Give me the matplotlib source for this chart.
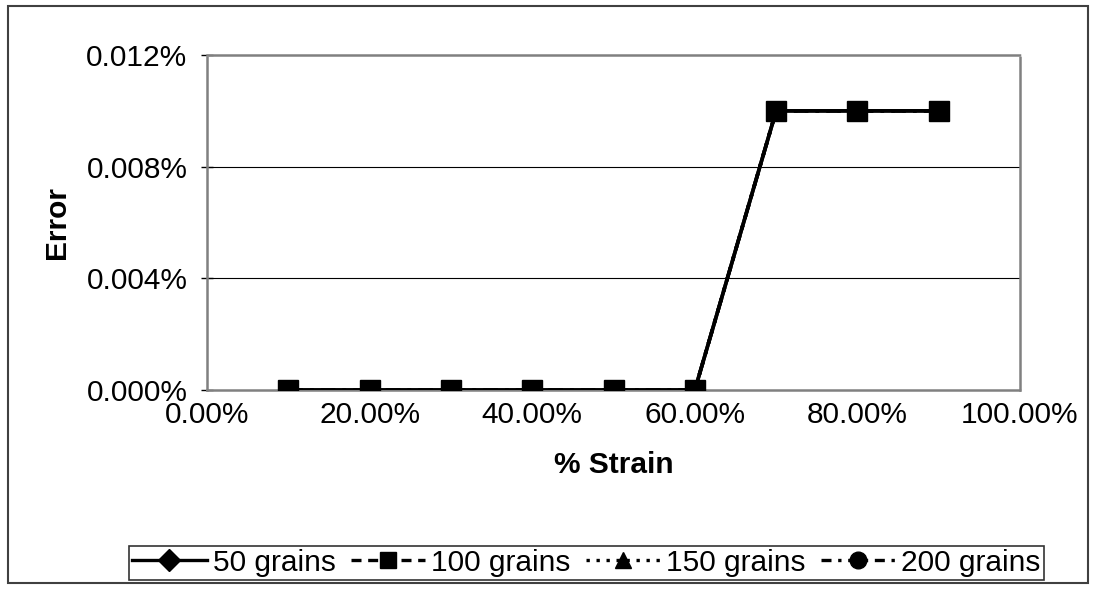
import matplotlib
matplotlib.use("Agg")
from matplotlib import pyplot as plt
from matplotlib.lines import Line2D
from matplotlib.patches import Rectangle
from matplotlib.ticker import FuncFormatter

plt.rcParams['font.family'] = ['Liberation Sans', 'DejaVu Sans']

# data (error as a fraction, strain as a fraction)
strain = [0.1, 0.2, 0.3, 0.4, 0.5, 0.6, 0.7, 0.8, 0.9]
err_50 = [0, 0, 0, 0, 0, 0, 0.0001, 0.0001, 0.0001]
err_100 = [0, 0, 0, 0, 0, 0, 0.0001, 0.0001, 0.0001]
err_150 = [0, 0, 0, 0, 0, 0, 0.0001, 0.0001, 0.0001]
err_200 = [0, 0, 0, 0, 0, 0, 0.0001, 0.0001, 0.0001]
series_names = ["50 grains", "100 grains", "150 grains", "200 grains"]

x_ticks = [0, 0.2, 0.4, 0.6, 0.8, 1.0]
y_ticks = [0, 0.00004, 0.00008, 0.00012]

FS = 21.5

fig = plt.figure(figsize=(10.96, 5.92), dpi=100)
ax = fig.add_axes([0.1889, 0.3412, 0.9307 - 0.1889, 0.9071 - 0.3412])

# all four series coincide, the 100 grains squares sit on top
ax.plot(strain, err_50, color='black', lw=2.6, ls='-', marker='D', ms=9, zorder=3)
ax.plot(strain, err_150, color='black', lw=2.6, ls=(0, (1, 2)), marker='^', ms=9, zorder=3)
ax.plot(strain, err_200, color='black', lw=2.6, ls=(0, (4, 2, 1, 2)), marker='o', ms=9, zorder=3)
ax.plot(strain, err_100, color='black', lw=2.6, ls='-', marker='s', ms=15, zorder=5)

ax.set_xlim(0, 1.0)
ax.set_ylim(0, 0.00012)
ax.set_xticks(x_ticks)
ax.set_yticks(y_ticks)
ax.xaxis.set_major_formatter(FuncFormatter(lambda v, p: "%.2f%%" % (v * 100)))
ax.yaxis.set_major_formatter(FuncFormatter(lambda v, p: "%.3f%%" % (v * 100)))

for v in y_ticks[1:3]:
    ax.axhline(v, color='black', lw=0.8, zorder=1)

for s in ax.spines.values():
    s.set_color('#808080')
    s.set_linewidth(1.8)
    s.set_linestyle((0, (1, 1)))

ax.tick_params(axis='y', direction='inout', length=8, width=1, labelsize=FS, pad=10)
ax.tick_params(axis='x', length=0, labelsize=FS, pad=8)

ax.set_xlabel("% Strain", fontsize=FS, fontweight='bold', labelpad=16)
ax.set_ylabel("Error", fontsize=FS, fontweight='bold', labelpad=11)

handles = [
    Line2D([], [], color='black', lw=2.4, ls='-', marker='D', ms=11),
    Line2D([], [], color='black', lw=2.4, ls=(0, (3, 2)), marker='s', ms=12),
    Line2D([], [], color='black', lw=2.4, ls=(0, (1, 2)), marker='^', ms=12),
    Line2D([], [], color='black', lw=2.4, ls=(0, (3, 2, 1, 2)), marker='o', ms=12),
]
leg = fig.legend(handles, series_names, loc='center', bbox_to_anchor=(0.535, 0.0496), ncol=4,
                 fontsize=FS, frameon=True, fancybox=False, edgecolor='black',
                 handlelength=2.5, handletextpad=0.2, columnspacing=0.5, borderpad=0.1,
                 borderaxespad=0)
leg.get_frame().set_linewidth(1.2)

fig.patches.append(Rectangle((0.0073, 0.0152), 0.9854, 0.9747, transform=fig.transFigure,
                             fill=False, edgecolor='#404040', lw=1.5))

plt.savefig('out.png', dpi=100)
